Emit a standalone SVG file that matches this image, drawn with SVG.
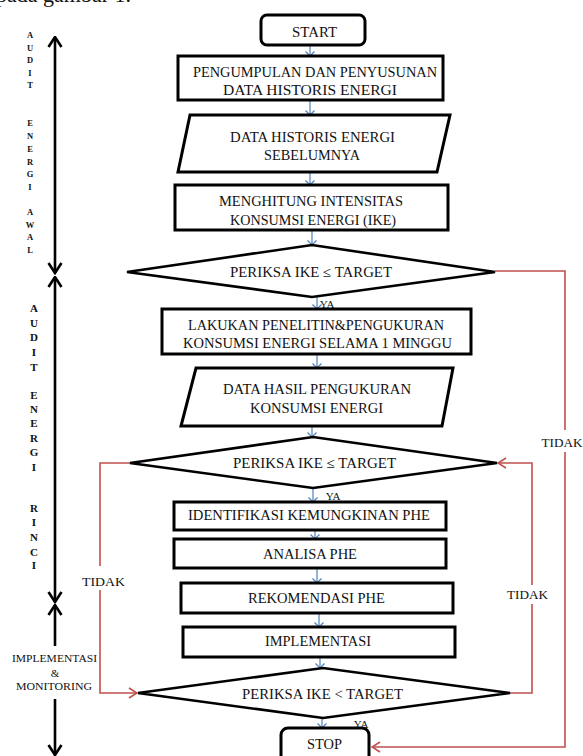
<svg xmlns="http://www.w3.org/2000/svg" width="583" height="756" viewBox="0 0 583 756">
<style>
.box{fill:#fff;stroke:#000;stroke-width:3}
.dia{fill:#fff;stroke:#000;stroke-width:2.6;stroke-linejoin:miter}
.t{font-family:"Liberation Serif","Times New Roman",serif;font-size:14.3px;fill:#111;text-anchor:middle}
.s{font-family:"Liberation Serif","Times New Roman",serif;fill:#111;text-anchor:middle}
.v1{font-size:8.5px;font-weight:bold}
.v2{font-size:11px;font-weight:bold}
.blue{fill:none;stroke:#4f81bd;stroke-width:1.2;marker-end:url(#mb)}
.red{fill:none;stroke:#c0504d;stroke-width:1.6}
.blk{fill:none;stroke:#000;stroke-width:2.6}
</style>
<defs>
<marker id="mb" markerUnits="userSpaceOnUse" viewBox="0 0 6 10" refX="5" refY="5" markerWidth="6" markerHeight="10" orient="auto">
<path d="M0.5,0.5 L5,5 L0.5,9.5" fill="none" stroke="#4f81bd" stroke-width="1.2"/>
</marker>
<marker id="mr" markerUnits="userSpaceOnUse" viewBox="0 0 10 12" refX="9" refY="6" markerWidth="10" markerHeight="12" orient="auto">
<path d="M1,1 L9,6 L1,11" fill="none" stroke="#c0504d" stroke-width="1.6"/>
</marker>
<marker id="mk" markerUnits="userSpaceOnUse" viewBox="0 0 13 16" refX="11.5" refY="8" markerWidth="13" markerHeight="16" orient="auto-start-reverse">
<path d="M1.5,1.5 L11.5,8 L1.5,14.5" fill="none" stroke="#000" stroke-width="2.6"/>
</marker>
</defs>
<rect width="583" height="756" fill="#fff"/>
<text x="-4" y="2" font-family="Liberation Serif, serif" font-size="22" fill="#111">pada gambar 1.</text>

<g id="connectors">
<path class="blue" d="M310,45 V56"/>
<path class="blue" d="M310,100 V115"/>
<path class="blue" d="M310,172 V185"/>
<path class="blue" d="M312,230 V245"/>
<path class="blue" d="M317,297 V309"/>
<path class="blue" d="M317,354 V368"/>
<path class="blue" d="M312,426 V437"/>
<path class="blue" d="M313,488 V502"/>
<path class="blue" d="M315,530 V539"/>
<path class="blue" d="M317,568 V583"/>
<path class="blue" d="M319,613 V627"/>
<path class="blue" d="M320,657 V668"/>
<path class="blue" d="M322,718 V728"/>
<path class="red" d="M495,271 H565 V430"/>
<path class="red" d="M565,452 V747 H372" marker-end="url(#mr)"/>
<path class="red" d="M510,693 H532 V604"/>
<path class="red" d="M532,585 V463 H498" marker-end="url(#mr)"/>
<path class="red" d="M130,463 H100 V566"/>
<path class="red" d="M100,590 V693 H137" marker-end="url(#mr)"/>
<path class="blk" d="M55,37 V273" marker-start="url(#mk)" marker-end="url(#mk)"/>
<path class="blk" d="M55,277 V602" marker-start="url(#mk)" marker-end="url(#mk)"/>
<path class="blk" d="M55,605 V646" marker-start="url(#mk)"/>
<path class="blk" d="M55,699 V755" marker-end="url(#mk)"/>
<text class="s" x="327" y="308" font-size="11">YA</text>
<text class="s" x="333" y="500" font-size="11">YA</text>
<text class="s" x="361" y="728" font-size="11">YA</text>
<text class="s" x="562" y="447" font-size="13.5" textLength="41" lengthAdjust="spacingAndGlyphs">TIDAK</text>
<text class="s" x="527.5" y="599" font-size="13.5" textLength="41" lengthAdjust="spacingAndGlyphs">TIDAK</text>
<text class="s" x="103.5" y="586" font-size="13.5" textLength="43" lengthAdjust="spacingAndGlyphs">TIDAK</text>
</g>

<g id="label-audit-awal">
<text class="s v1" x="30" y="38">A</text><text class="s v1" x="30" y="50.5">U</text><text class="s v1" x="30" y="63">D</text><text class="s v1" x="30" y="76">I</text><text class="s v1" x="30" y="88">T</text>
<text class="s v1" x="30" y="126">E</text><text class="s v1" x="30" y="139">N</text><text class="s v1" x="30" y="152">E</text><text class="s v1" x="30" y="165">R</text><text class="s v1" x="30" y="177">G</text><text class="s v1" x="30" y="190">I</text>
<text class="s v1" x="30" y="215">A</text><text class="s v1" x="30" y="227.5">W</text><text class="s v1" x="30" y="240">A</text><text class="s v1" x="30" y="253">L</text>
</g>
<g id="label-audit-rinci">
<text class="s v2" x="34" y="312">A</text><text class="s v2" x="34" y="327">U</text><text class="s v2" x="34" y="341">D</text><text class="s v2" x="34" y="356">I</text><text class="s v2" x="34" y="371">T</text>
<text class="s v2" x="34" y="399">E</text><text class="s v2" x="34" y="413">N</text><text class="s v2" x="34" y="427">E</text><text class="s v2" x="34" y="442">R</text><text class="s v2" x="34" y="456">G</text><text class="s v2" x="34" y="471">I</text>
<text class="s v2" x="34" y="512">R</text><text class="s v2" x="34" y="526">I</text><text class="s v2" x="34" y="541">N</text><text class="s v2" x="34" y="556">C</text><text class="s v2" x="34" y="569">I</text>
</g>
<g id="label-implementasi">
<text class="s" x="54.5" y="662" font-size="11" textLength="85" lengthAdjust="spacingAndGlyphs">IMPLEMENTASI</text>
<text class="s" x="55" y="677" font-size="11">&amp;</text>
<text class="s" x="54" y="690" font-size="11" textLength="76" lengthAdjust="spacingAndGlyphs">MONITORING</text>
</g>

<g id="start">
<rect class="box" x="261" y="15" width="104" height="30" rx="6"/>
<text class="t" x="314.5" y="37" textLength="45" lengthAdjust="spacingAndGlyphs">START</text>
</g>
<g id="pengumpulan">
<rect class="box" x="178" y="56" width="265" height="44"/>
<text class="t" x="315" y="76.5" textLength="244" lengthAdjust="spacingAndGlyphs">PENGUMPULAN DAN PENYUSUNAN</text>
<text class="t" x="310" y="94.5" textLength="174" lengthAdjust="spacingAndGlyphs">DATA HISTORIS ENERGI</text>
</g>
<g id="data-historis">
<polygon class="box" points="190,115 450,115 437,172 178,172"/>
<text class="t" x="312.5" y="142" textLength="165" lengthAdjust="spacingAndGlyphs">DATA HISTORIS ENERGI</text>
<text class="t" x="312" y="160" textLength="96" lengthAdjust="spacingAndGlyphs">SEBELUMNYA</text>
</g>
<g id="menghitung">
<rect class="box" x="175" y="185" width="273" height="45"/>
<text class="t" x="311" y="206" textLength="184" lengthAdjust="spacingAndGlyphs">MENGHITUNG INTENSITAS</text>
<text class="t" x="313" y="225" textLength="166" lengthAdjust="spacingAndGlyphs">KONSUMSI ENERGI (IKE)</text>
</g>
<g id="periksa-1">
<polygon class="dia" points="127,272 312,245 495,272 312,297"/>
<text class="t" x="311" y="277" textLength="162" lengthAdjust="spacingAndGlyphs">PERIKSA IKE ≤ TARGET</text>
</g>
<g id="lakukan">
<rect class="box" x="162" y="309" width="309" height="45"/>
<text class="t" x="316" y="330" textLength="256" lengthAdjust="spacingAndGlyphs">LAKUKAN PENELITIN&amp;PENGUKURAN</text>
<text class="t" x="317.5" y="348" textLength="269" lengthAdjust="spacingAndGlyphs">KONSUMSI ENERGI SELAMA 1 MINGGU</text>
</g>
<g id="data-hasil">
<polygon class="box" points="196,368 453,368 442,426 181,426"/>
<text class="t" x="317" y="394" textLength="188" lengthAdjust="spacingAndGlyphs">DATA HASIL PENGUKURAN</text>
<text class="t" x="316.5" y="413" textLength="133" lengthAdjust="spacingAndGlyphs">KONSUMSI ENERGI</text>
</g>
<g id="periksa-2">
<polygon class="dia" points="130,463 313,437 497,463 313,488"/>
<text class="t" x="314.5" y="468" textLength="163" lengthAdjust="spacingAndGlyphs">PERIKSA IKE ≤ TARGET</text>
</g>
<g id="identifikasi">
<rect class="box" x="174" y="502" width="272" height="28"/>
<text class="t" x="309" y="520" textLength="242" lengthAdjust="spacingAndGlyphs">IDENTIFIKASI KEMUNGKINAN PHE</text>
</g>
<g id="analisa">
<rect class="box" x="174" y="539" width="272" height="29"/>
<text class="t" x="310" y="559" textLength="94" lengthAdjust="spacingAndGlyphs">ANALISA PHE</text>
</g>
<g id="rekomendasi">
<rect class="box" x="181" y="583" width="272" height="30"/>
<text class="t" x="316.5" y="603" textLength="137" lengthAdjust="spacingAndGlyphs">REKOMENDASI PHE</text>
</g>
<g id="implementasi">
<rect class="box" x="183" y="627" width="272" height="30"/>
<text class="t" x="318" y="646" textLength="106" lengthAdjust="spacingAndGlyphs">IMPLEMENTASI</text>
</g>
<g id="periksa-3">
<polygon class="dia" points="138,693 323,668 510,693 323,718"/>
<text class="t" x="322.5" y="699" textLength="161" lengthAdjust="spacingAndGlyphs">PERIKSA IKE &lt; TARGET</text>
</g>
<g id="stop">
<rect class="box" x="281" y="728" width="88" height="44" rx="7"/>
<text class="t" x="324.5" y="749" textLength="35" lengthAdjust="spacingAndGlyphs">STOP</text>
</g>
</svg>
